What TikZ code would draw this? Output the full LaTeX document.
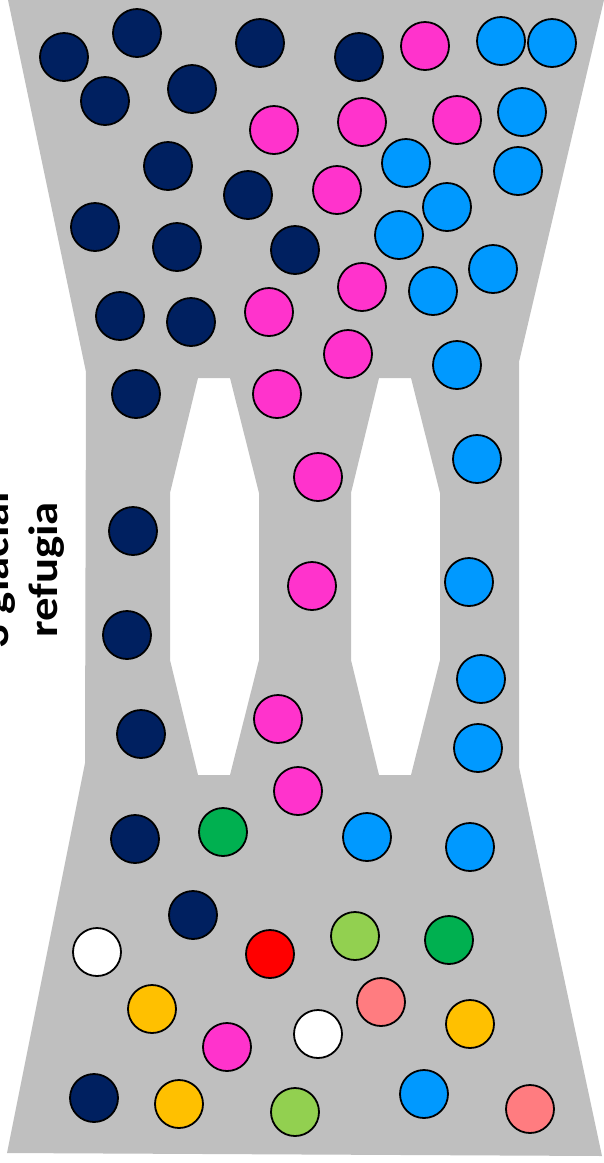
\documentclass[tikz,border=0pt]{standalone}
\usepackage{fontspec}
\newfontfamily\carl{Carlito}
\definecolor{bggray}{RGB}{191,191,191}
\definecolor{navy}{HTML}{002060}
\definecolor{pinkc}{HTML}{FF33CC}
\definecolor{bluec}{HTML}{0099FF}
\definecolor{greenc}{HTML}{00B050}
\definecolor{lgreenc}{HTML}{92D050}
\definecolor{redc}{HTML}{FF0000}
\definecolor{yellowc}{HTML}{FFC000}
\definecolor{salmonc}{HTML}{FF7C80}
\begin{document}
\begin{tikzpicture}[x=1pt,y=-1pt,
  ball/.style={circle,draw=black,line width=1.8pt,minimum size=48pt,inner sep=0pt},
  lbl/.style={font=\carl\bfseries\fontsize{41}{48}\selectfont,inner sep=0pt,rotate=90,xscale=1.14,anchor=base}]
\useasboundingbox (0,0) rectangle (603,1163);
\fill[bggray,even odd rule]
  (8,0) -- (604,0) -- (519,362) -- (519,767) -- (602,1156) -- (7,1153) -- (85,763) -- (86,372) -- cycle
  (198,378) -- (230,378) -- (259,493) -- (259,660) -- (230,775) -- (198,775) -- (170,660) -- (170,493) -- cycle
  (379,378) -- (411,378) -- (440,493) -- (440,660) -- (411,775) -- (379,775) -- (351,660) -- (351,493) -- cycle;
\node[lbl] (t1) at (9,570) {3 glacial};
\node[lbl] (t2) at (57,570) {refugia};
\foreach \p [count=\i] in {(64,57),(137,33),(105,101),(192,89),(260,43),(168,166),(248,195),(359,57),(95,227),(177,247),(295,250),(120,316),(191,322),(136,394),(133,531),(127,635),(141,734),(135,839),(193,915),(94,1098)}
  \node[ball,fill=navy] (n\i) at \p {};
\foreach \p [count=\i] in {(425,46),(274,130),(362,122),(457,120),(337,190),(362,287),(269,312),(348,354),(277,394),(318,477),(312,586),(278,719),(298,791),(227,1047)}
  \node[ball,fill=pinkc] (p\i) at \p {};
\foreach \p [count=\i] in {(501,41),(552,43),(522,112),(406,163),(518,171),(447,207),(399,235),(433,291),(493,269),(457,365),(477,459),(469,582),(481,679),(478,748),(367,837),(470,847),(424,1094)}
  \node[ball,fill=bluec] (b\i) at \p {};
\foreach \p [count=\i] in {(223,832),(449,940)}
  \node[ball,fill=greenc] (g\i) at \p {};
\foreach \p [count=\i] in {(355,936),(295,1112)}
  \node[ball,fill=lgreenc] (lg\i) at \p {};
\node[ball,fill=redc] (r1) at (270,954) {};
\foreach \p [count=\i] in {(152,1009),(470,1024),(179,1104)}
  \node[ball,fill=yellowc] (y\i) at \p {};
\foreach \p [count=\i] in {(381,1002),(530,1109)}
  \node[ball,fill=salmonc] (s\i) at \p {};
\foreach \p [count=\i] in {(97,952),(318,1034)}
  \node[ball,fill=white] (w\i) at \p {};
\end{tikzpicture}
\end{document}
